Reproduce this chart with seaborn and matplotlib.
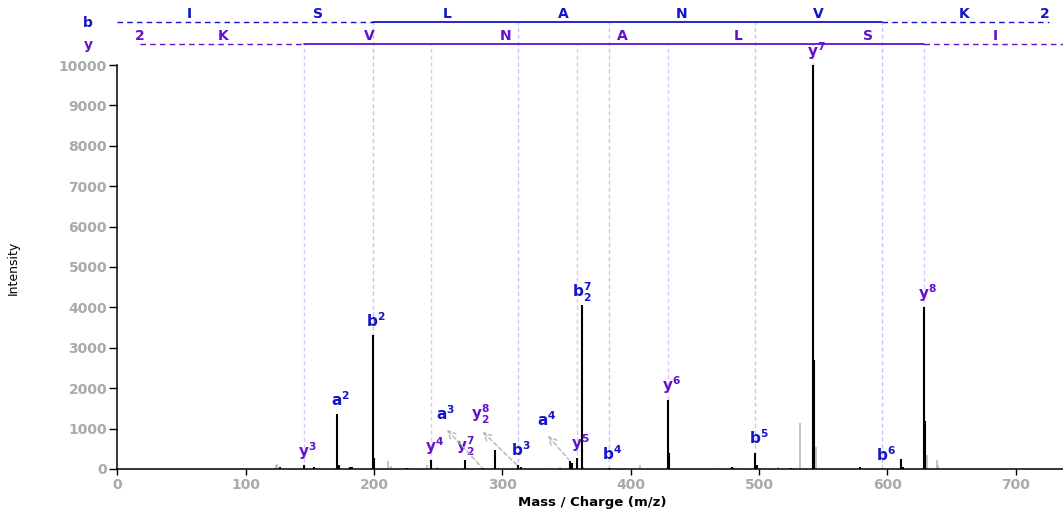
import numpy as np
import pandas as pd
import seaborn as sns
import matplotlib.pyplot as plt

# peaks matched to fragment ions (black) and the rest (grey)
matched_mz = [126.9, 145.4, 153.4, 171.1, 172.9, 181.2, 182.8, 198.9, 199.9, 225.6,
              244.3, 270.8, 284.6, 294.2, 311.9, 314.3, 352.7, 354.5, 357.9, 361.8,
              383.1, 428.8, 430.1, 478.7, 479.7, 497.1, 498.2, 524.9, 542.3, 543.1,
              549.9, 578.7, 610.7, 612.0, 629.0, 629.8]
matched_int = [60, 100, 60, 1350, 90, 60, 40, 3320, 270, 20,
               220, 220, 20, 480, 110, 50, 200, 150, 280, 4050,
               25, 1720, 400, 40, 30, 400, 90, 20, 10000, 2700,
               10, 60, 250, 50, 4000, 1200]
other_mz = [123.3, 124.7, 210.8, 213.2, 241.0, 248.8, 333.2, 338.7, 344.9, 362.7,
            407.2, 464.4, 483.6, 515.0, 517.7, 532.0, 544.2, 630.7, 638.5, 639.8]
other_int = [100, 130, 200, 70, 100, 50, 30, 25, 40, 60,
             100, 20, 25, 40, 25, 1130, 550, 350, 220, 100]

# ion annotations sitting on their peak
ion_text = ['y^{3}', 'a^{2}', 'b^{2}', 'y^{4}', 'y_{2}^{7}', 'b^{3}', 'y^{5}', 'b_{2}^{7}',
            'b^{4}', 'y^{6}', 'b^{5}', 'y^{7}', 'b^{6}', 'y^{8}']
ion_mz = [145.4, 171.1, 198.9, 244.3, 270.8, 311.9, 357.9, 361.8,
          383.1, 428.8, 497.1, 542.3, 595.9, 629.0]
ion_int = [100, 1350, 3320, 220, 220, 110, 280, 4050, 25, 1720, 400, 10000, 0, 4000]

# ion annotations moved aside with an arrow
moved_text = ['a^{3}', 'y_{2}^{8}', 'a^{4}']
moved_mz = [284.6, 313.0, 352.7]
moved_int = [20, 50, 200]
moved_label_mz = [256.0, 283.3, 334.8]
moved_label_int = [1360, 1360, 1210]

# fragment ladder
b_frag_mz = [198.9, 311.9, 383.1, 497.1, 595.9]
y_frag_mz = [145.4, 244.3, 357.9, 428.8, 542.3, 628.6]
b_ends = [0, 726]
y_ends = [17.5, 737]
b_residues = ['I', 'S', 'L', 'A', 'N', 'V', 'K', '2']
b_residue_mz = [56.2, 156.3, 257.1, 347.2, 439.7, 546.0, 659.8, 723.0]
y_residues = ['2', 'K', 'V', 'N', 'A', 'L', 'S', 'I']
y_residue_mz = [17.5, 82.2, 196.5, 302.8, 393.2, 483.6, 584.7, 684.6]

sns.set_theme(style='white')
plt.rcParams['font.family'] = ['DejaVu Sans']
plt.rcParams['mathtext.fontset'] = 'dejavusans'

b_col = '#1414c8'
y_col = '#6410cc'
b_vcol = '#c4c4ff'
y_vcol = '#dcc6ff'

fig = plt.figure(figsize=(10.63, 5.16), dpi=100)
ax = fig.add_axes([0.1105, 0.0911, 0.8895, 0.9089])

top = 11609
b_row = 11069
y_row = 10520

ax.vlines(b_frag_mz, 0, b_row, colors=b_vcol, linestyles=(0, (3, 2)), lw=1, zorder=0)
ax.vlines(y_frag_mz, 0, y_row, colors=y_vcol, linestyles=(0, (3, 2)), lw=1, zorder=0)

ax.vlines(other_mz, 0, other_int, colors='#bbbbbb', lw=1.2, zorder=2)
ax.vlines(matched_mz, 0, matched_int, colors='black', lw=1.5, zorder=3)

# ladder lines
ax.plot([b_ends[0], b_frag_mz[0]], [b_row] * 2, color=b_col, lw=1, ls=(0, (4, 3)), clip_on=False)
ax.plot([b_frag_mz[0], b_frag_mz[-1]], [b_row] * 2, color=b_col, lw=1.3, clip_on=False)
ax.plot([b_frag_mz[-1], b_ends[1]], [b_row] * 2, color=b_col, lw=1, ls=(0, (4, 3)), clip_on=False)
ax.plot([y_ends[0], y_frag_mz[0]], [y_row] * 2, color=y_col, lw=1, ls=(0, (4, 3)), clip_on=False)
ax.plot([y_frag_mz[0], y_frag_mz[-1]], [y_row] * 2, color=y_col, lw=1.3, clip_on=False)
ax.plot([y_frag_mz[-1], y_ends[1]], [y_row] * 2, color=y_col, lw=1, ls=(0, (4, 3)), clip_on=False)

for r, m in zip(b_residues, b_residue_mz):
    ax.text(m, 11262, r, color=b_col, fontsize=10, fontweight='bold',
            ha='center', va='center', clip_on=False)
for r, m in zip(y_residues, y_residue_mz):
    ax.text(m, 10718, r, color=y_col, fontsize=10, fontweight='bold',
            ha='center', va='center', clip_on=False)
ax.text(-23, 11052, 'b', color=b_col, fontsize=10, fontweight='bold',
        ha='center', va='center', clip_on=False)
ax.text(-23, 10495, 'y', color=y_col, fontsize=10, fontweight='bold',
        ha='center', va='center', clip_on=False)

for t, m, i in zip(ion_text, ion_mz, ion_int):
    col = y_col if t.startswith('y') else b_col
    dx = 0 if '_' in t else 2.5
    ax.annotate(r'$\mathbf{' + t + '}$', xy=(m, i), xytext=(dx, 6),
                textcoords='offset points', ha='center', va='baseline',
                color=col, fontsize=11)

for t, m, i, lm, li in zip(moved_text, moved_mz, moved_int, moved_label_mz, moved_label_int):
    col = y_col if t.startswith('y') else b_col
    ax.annotate(r'$\mathbf{' + t + '}$', xy=(m, i), xytext=(lm, li),
                textcoords='data', ha='center', va='center', color=col, fontsize=11,
                arrowprops=dict(arrowstyle='<-, head_length=0.5, head_width=0.25',
                                color='#b4b4b4', ls=(0, (3, 2)), lw=1,
                                relpos=(0.25, 0.0), shrinkA=3, shrinkB=1))

ax.set_xlim(0, 737)
ax.set_ylim(0, top)
ax.set_xticks(np.arange(0, 701, 100))
ax.set_yticks(np.arange(0, 10001, 1000))
sns.despine(ax=ax)
ax.spines['left'].set_bounds(0, 10000)
for s in ['left', 'bottom']:
    ax.spines[s].set_color('black')
    ax.spines[s].set_linewidth(1.1)
ax.tick_params(axis='y', direction='out', length=6, width=1, color='black', pad=1.5,
               left=True, labelsize=10, labelcolor='#aaaaaa')
ax.tick_params(axis='x', direction='out', length=4.5, width=1, color='black', pad=2,
               bottom=True, labelsize=10, labelcolor='#aaaaaa')
for lab in ax.get_xticklabels() + ax.get_yticklabels():
    lab.set_fontweight('bold')

ax.set_xlabel('Mass / Charge (m/z)', fontsize=9.5, fontweight='bold', color='black')
ax.set_ylabel('Intensity', fontsize=9, color='black')
ax.xaxis.set_label_coords(0.502, -0.058)
ax.yaxis.set_label_coords(-0.103, 0.4286)

fig.savefig('out.png', dpi=100)
